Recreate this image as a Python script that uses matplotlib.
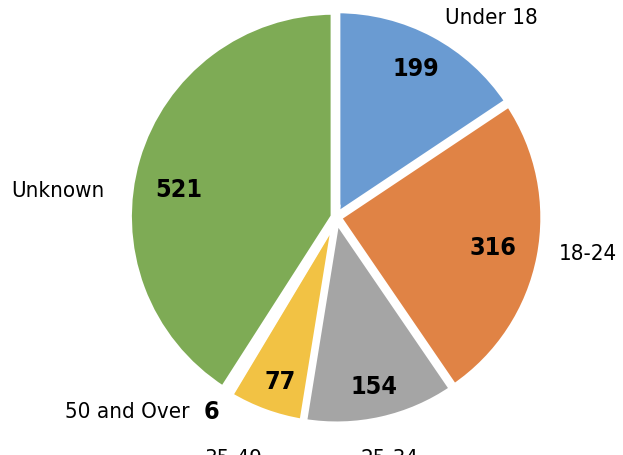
import numpy as np
import matplotlib.pyplot as plt
from matplotlib import font_manager

names = {f.name for f in font_manager.fontManager.ttflist}
if 'Liberation Sans Narrow' in names:
    plt.rcParams['font.family'] = ['Liberation Sans Narrow', 'DejaVu Sans']
else:
    plt.rcParams['font.family'] = ['DejaVu Sans']
    plt.rcParams['font.stretch'] = 'condensed'

categories = ['Under 18', '18-24', '25-34', '35-49', '50 and Over', 'Unknown']
counts = [199, 316, 154, 77, 6, 521]
colors = ['#6A9BD2', '#E08345', '#A5A5A5', '#F2C244', '#264478', '#7EAB55']

# where Excel put the category labels (data units, pie radius = 1)
label_pos = [(0.76, 0.97), (1.23, -0.18), (0.26, -1.18), (-0.50, -1.18),
             (-1.02, -0.95), (-1.36, 0.13)]
# radial distance and angle nudge (deg) of the value labels
value_dist = [0.82, 0.78, 0.85, 0.85, None, 0.78]
value_turn = [0, 0, 0, 1.5, 0, 6.5]

fig = plt.figure(figsize=(6.23, 4.55), dpi=100)
ax = fig.add_axes([0, 0, 1, 1])

wedges, _ = ax.pie(counts, colors=colors, startangle=90, counterclock=False,
                   radius=1.0, explode=[0.012] * len(counts),
                   wedgeprops=dict(edgecolor='white', linewidth=4.5))

for w, name, n, pos, d, t in zip(wedges, categories, counts, label_pos,
                                 value_dist, value_turn):
    ax.text(pos[0], pos[1], name, ha='center', va='center', fontsize=16)
    if d is None:
        ax.text(pos[0] + 0.41, pos[1], str(n), ha='center', va='center',
                fontsize=18, fontweight='bold')
        continue
    mid = np.deg2rad((w.theta1 + w.theta2) / 2 + t)
    ax.text(d * np.cos(mid), d * np.sin(mid), str(n), ha='center', va='center',
            fontsize=18, fontweight='bold')

ax.set_xlim(-1.64, 1.40)
ax.set_ylim(-1.16, 1.06)
ax.set_aspect('equal')
ax.axis('off')

fig.savefig('out.png', dpi=100)
